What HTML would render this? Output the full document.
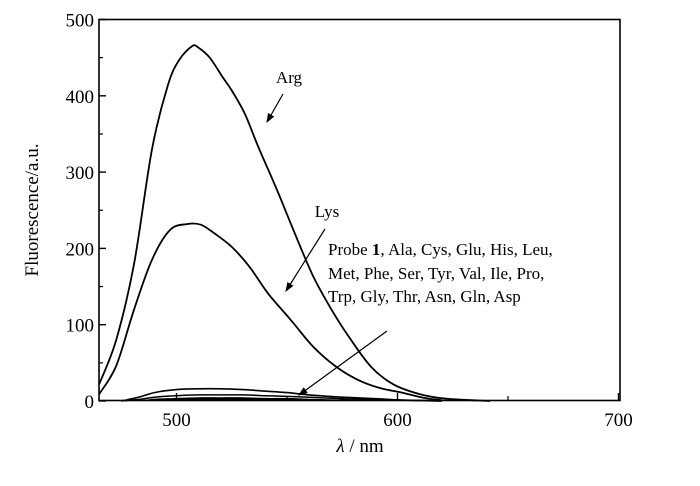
<!DOCTYPE html>
<html><head><meta charset="utf-8"><style>
body{margin:0;background:#fff}
svg{font-family:"Liberation Serif",serif}
</style></head><body>
<svg id="chart" width="700" height="481" viewBox="0 0 700 481">
<defs><marker id="ah" markerWidth="8" markerHeight="8" refX="7" refY="4" orient="auto"><path d="M0,1 L8,4 L0,7 z" fill="#000"/></marker></defs>
<g id="plot"></g>
<rect x="99" y="19.5" width="521" height="381" fill="none" stroke="#000" stroke-width="1.6"/>
<text x="38" y="210" font-size="19" text-anchor="middle" transform="rotate(-90 38 210)">Fluorescence/a.u.</text>
<text x="360" y="452" font-size="19" text-anchor="middle"><tspan font-style="italic">λ</tspan> / nm</text>
<text x="289" y="83" font-size="17" text-anchor="middle">Arg</text>
<line x1="283" y1="94" x2="267" y2="122" stroke="#000" stroke-width="1.2" marker-end="url(#ah)"/>
<text x="327" y="217" font-size="17" text-anchor="middle">Lys</text>
<line x1="325" y1="229" x2="286" y2="291" stroke="#000" stroke-width="1.2" marker-end="url(#ah)"/>
<g font-size="17">
<text x="328" y="255">Probe <tspan font-weight="bold">1</tspan>, Ala, Cys, Glu, His, Leu,</text>
<text x="328" y="279">Met, Phe, Ser, Tyr, Val, Ile, Pro,</text>
<text x="328" y="302">Trp, Gly, Thr, Asn, Gln, Asp</text>
</g>
<line x1="387" y1="331" x2="299" y2="395" stroke="#000" stroke-width="1.2" marker-end="url(#ah)"/>
</svg>
<script>
const xTicks=[500,600,700];
const xMinor=[550,650];
const yTicks=[0,100,200,300,400,500];
const yMinor=[50,150,250,350,450];
const argX=[465,472.7,480.8,488.9,496,501,507,510,515,521,525,531,537,545,553.5,561.6,569.7,577.8,588,598,610,622,642];
const argY=[22,80,180,330,413,446,465,463,450,424,407,376,333,280,220,165,122,85,45,22,9,3,0];
const lysX=[465,472.7,480.8,488.9,497,505,511,517,525,533,541.4,551.5,561.6,571.7,581.8,592,602,612,620];
const lysY=[9,46,120,185,224,232,231,220,202,176,141,107,72,46,28,17,11,4,1];
const weakX=[475,483,490,500,510,520,530,540,550,560,575,590,605,620];
const weakY=[0,5,11,15,16,16,15,13,11,8,5,3,1,0];
const weak2Y=[0,2,5,7,8,8,8,7,6,5,3,2,1,0];
const weak3Y=[0,1,3,4,5,5,5,4,4,3,2,1,0,0];
const X=v=>176.5+(v-500)*2.21;
const Y=v=>401-v*0.763;
const g=document.getElementById('plot');
const NS='http://www.w3.org/2000/svg';
function mk(t,a){const e=document.createElementNS(NS,t);for(const k in a)e.setAttribute(k,a[k]);g.appendChild(e);return e;}
xTicks.forEach(v=>{
 const l=mk('line',{x1:X(v),x2:X(v),y1:400,y2:393,stroke:'#000','stroke-width':1.4});
 
 
 const t=mk('text',{x:X(v),y:426,'font-size':19,'text-anchor':'middle'});t.textContent=v;
 
 
});
xMinor.forEach(v=>{const l=mk('line',{x1:X(v),x2:X(v),y1:400,y2:396,stroke:'#000','stroke-width':1.2});
 
 });
yTicks.forEach(v=>{
 const l=mk('line',{x1:99,x2:106,y1:Y(v),y2:Y(v),stroke:'#000','stroke-width':1.4});
 
 
 const t=mk('text',{x:94,y:Y(v)+7,'font-size':19,'text-anchor':'end'});t.textContent=v;
 
 
});
yMinor.forEach(v=>{const l=mk('line',{x1:99,x2:103,y1:Y(v),y2:Y(v),stroke:'#000','stroke-width':1.2});
 
 });
function smooth(xs,ys){
 const p=xs.map((x,i)=>[X(x),Y(ys[i])]);
 let d='M'+p[0][0].toFixed(1)+','+p[0][1].toFixed(1);
 for(let i=0;i<p.length-1;i++){
  const p0=p[i-1]||p[i],p1=p[i],p2=p[i+1],p3=p[i+2]||p2;
  const c1=[p1[0]+(p2[0]-p0[0])/6,p1[1]+(p2[1]-p0[1])/6];
  const c2=[p2[0]-(p3[0]-p1[0])/6,p2[1]-(p3[1]-p1[1])/6];
  d+=' C'+c1.map(v=>v.toFixed(1))+' '+c2.map(v=>v.toFixed(1))+' '+p2.map(v=>v.toFixed(1));
 }
 return d;
}
function series(xs,ys,name,w){
 const p=mk('path',{d:smooth(xs,ys),fill:'none',stroke:'#000','stroke-width':w,'stroke-linejoin':'round'});
 
 
}
const f=mk('path',{d:smooth(weakX,weak3Y)+' L'+X(weakX[0])+','+Y(0)+' Z',fill:'#000'});


series(weakX,weak2Y,'weak-series-2',1.5);
series(weakX,weakY,'weak-series-1',1.6);
series(lysX,lysY,'lys-series',1.8);
series(argX,argY,'arg-series',1.8);
</script>
</body></html>
